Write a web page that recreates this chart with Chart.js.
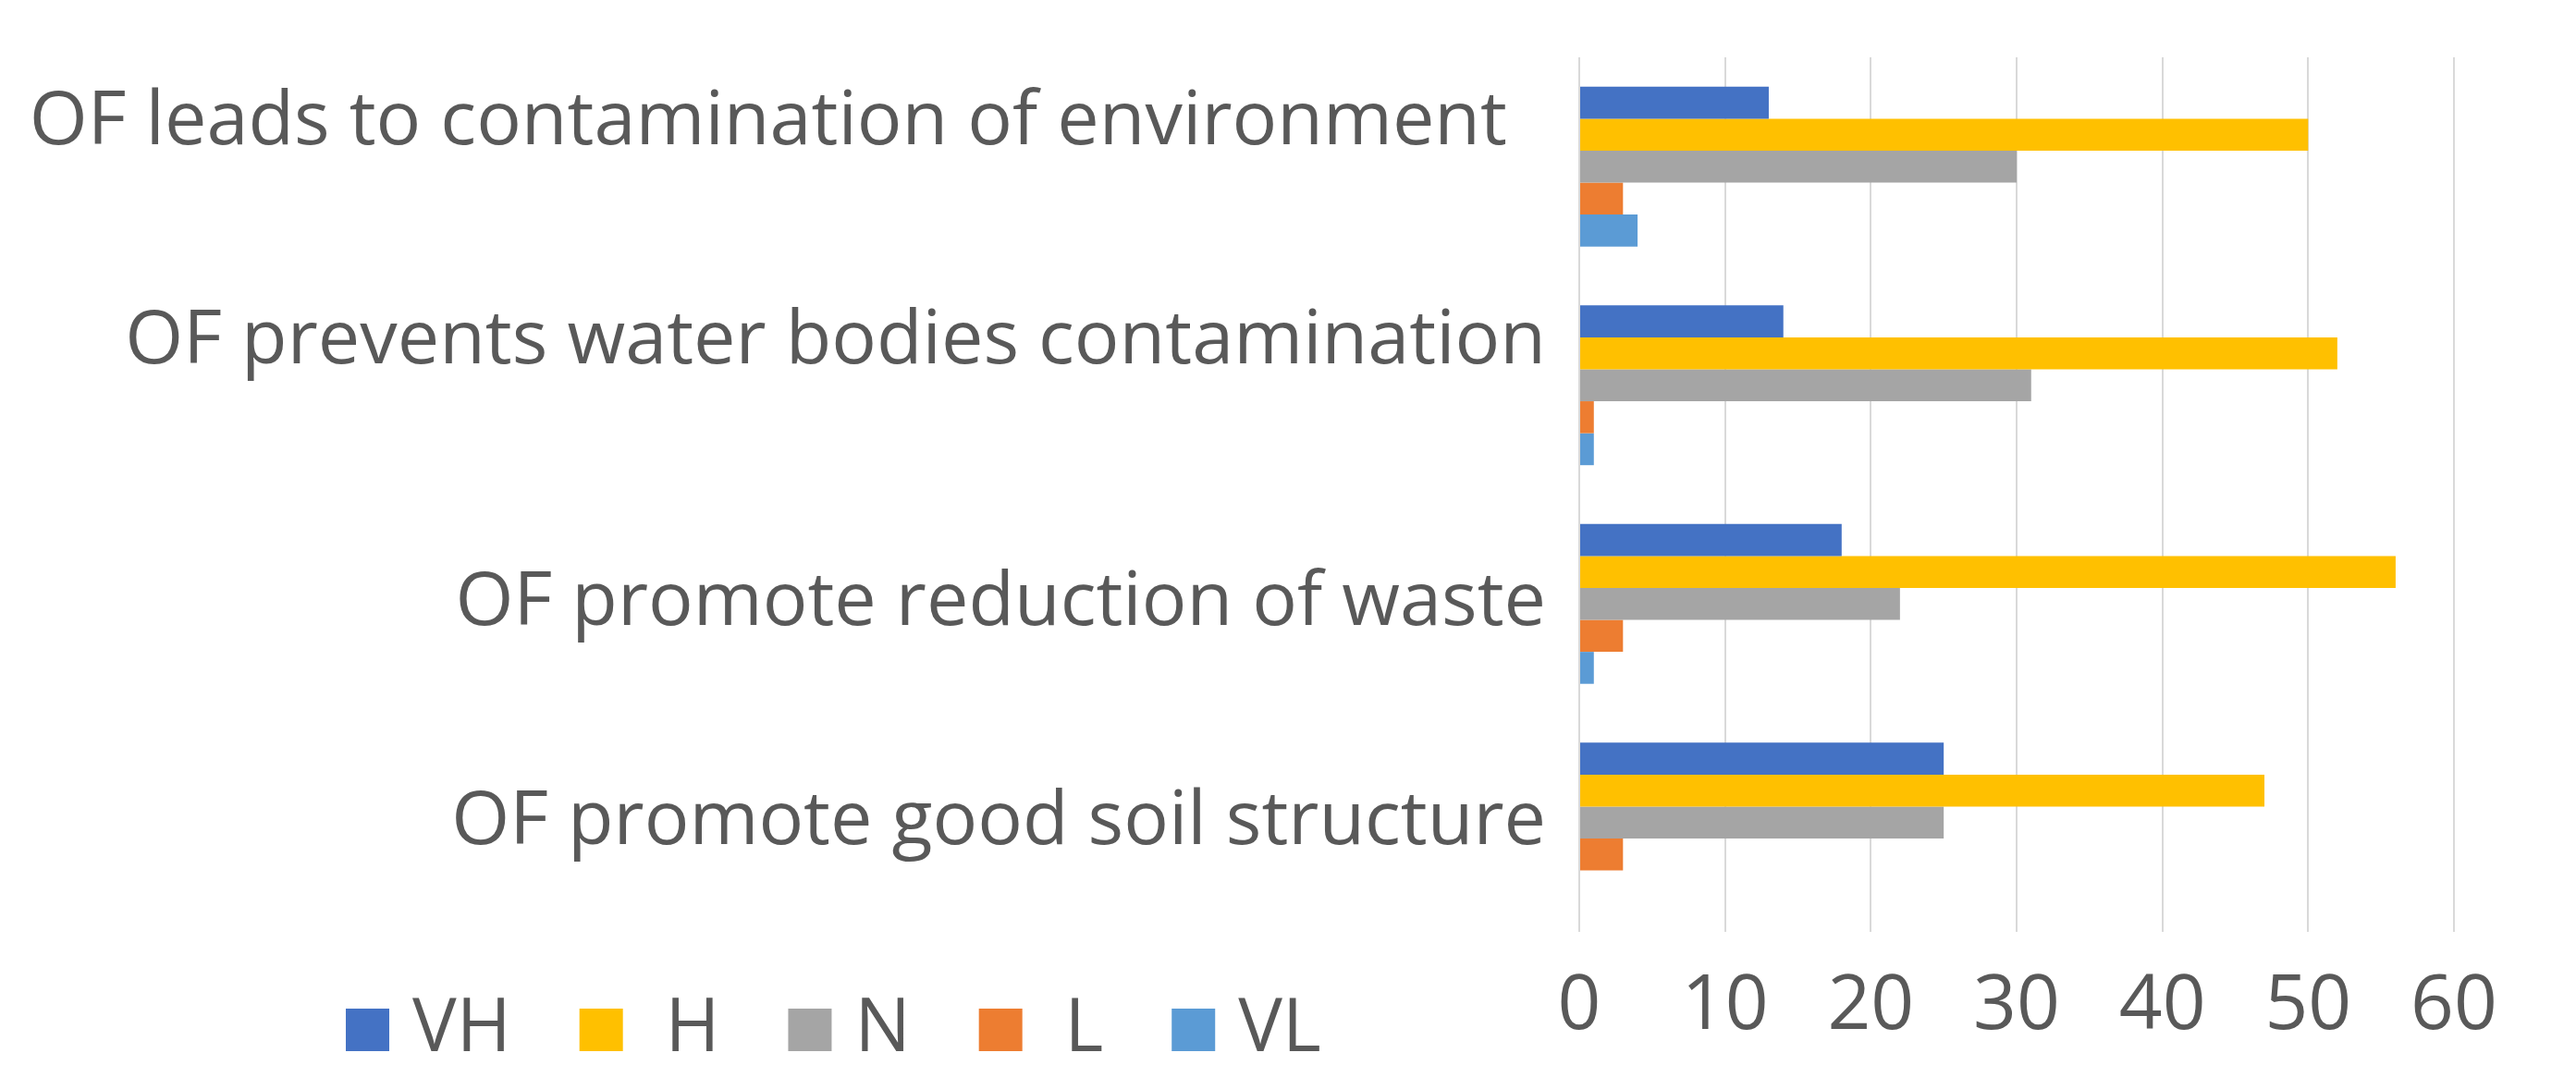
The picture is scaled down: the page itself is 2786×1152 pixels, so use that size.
<!DOCTYPE html>
<html>
<head>
<meta charset="utf-8">
<title>Perception of organic farming</title>
<script src="https://cdn.jsdelivr.net/npm/chart.js@4.4.1/dist/chart.umd.min.js"></script>
<style>
  html, body { margin: 0; padding: 0; background: #ffffff; }
</style>
</head>
<body>
<canvas id="ofChart" width="2786" height="1152"></canvas>
<script>
// statements, top to bottom (first one has trailing spaces in the source chart)
var categories = [
  'OF leads to contamination of environment  ',
  'OF prevents water bodies contamination',
  'OF promote reduction of waste',
  'OF promote good soil structure'
];
var seriesNames = ['VH', ' H', 'N', ' L', 'VL'];
var vh = [13, 14, 18, 25];
var h = [50, 52, 56, 47];
var n = [30, 31, 22, 25];
var l = [3, 1, 3, 3];
var vl = [4, 1, 1, 0];
var xTicks = [0, 10, 20, 30, 40, 50, 60];

var colors = ['#4472C4', '#FFC000', '#A5A5A5', '#ED7D31', '#5B9BD5'];
var textColor = '#595959';
var fontFamily = '"Open Sans", "Noto Sans", sans-serif';

// legend sits in the same row as the value axis labels, under the statements
var bottomLegend = {
  id: 'bottomLegend',
  afterDraw: function (chart) {
    var ctx = chart.ctx;
    var x = 374, yMid = 1114;
    ctx.save();
    ctx.font = '80px ' + fontFamily;
    ctx.textBaseline = 'middle';
    ctx.textAlign = 'left';
    chart.data.datasets.forEach(function (ds) {
      ctx.fillStyle = ds.backgroundColor;
      ctx.fillRect(x, yMid - 23, 47, 46);
      x += 47 + 25;
      ctx.fillStyle = textColor;
      ctx.fillText(ds.label, x, yMid);
      x += ctx.measureText(ds.label).width + 74;
    });
    ctx.restore();
  }
};

var seriesData = [vh, h, n, l, vl];
var datasets = seriesData.map(function (vals, i) {
  return {
    label: seriesNames[i],
    data: vals,
    backgroundColor: colors[i],
    borderWidth: 0,
    barPercentage: 1.0,
    categoryPercentage: 0.731
  };
});

var ctx = document.getElementById('ofChart').getContext('2d');
var ofChart = new Chart(ctx, {
  type: 'bar',
  data: {
    labels: categories,
    datasets: datasets
  },
  options: {
    indexAxis: 'y',
    responsive: false,
    animation: false,
    devicePixelRatio: 1,
    layout: {
      padding: { top: 62, right: 132, bottom: 0, left: 0 }
    },
    scales: {
      x: {
        min: 0,
        max: 60,
        afterBuildTicks: function (axis) {
          axis.ticks = xTicks.map(function (v) { return { value: v }; });
        },
        afterFit: function (scale) {
          scale.height = 144;
          scale.paddingLeft = 0;
          scale.paddingRight = 0;
        },
        grid: { color: '#D9D9D9', lineWidth: 2, drawTicks: false },
        border: { display: false },
        ticks: {
          color: textColor,
          padding: 32,
          maxRotation: 0,
          font: { family: fontFamily, size: 82 }
        }
      },
      y: {
        afterFit: function (scale) {
          scale.width = 1708;
          scale.paddingTop = 0;
          scale.paddingBottom = 0;
        },
        grid: { display: false },
        border: { display: false },
        ticks: {
          color: textColor,
          padding: 28,
          font: { family: fontFamily, size: 81, lineHeight: 1.16 },
          // the first two statements carry an extra empty line in the source chart
          callback: function (value, index) {
            var lab = categories[index];
            return index < 2 ? [lab, ''] : lab;
          }
        }
      }
    },
    plugins: {
      legend: { display: false },
      tooltip: { enabled: false }
    }
  },
  plugins: [bottomLegend]
});
</script>
</body>
</html>
